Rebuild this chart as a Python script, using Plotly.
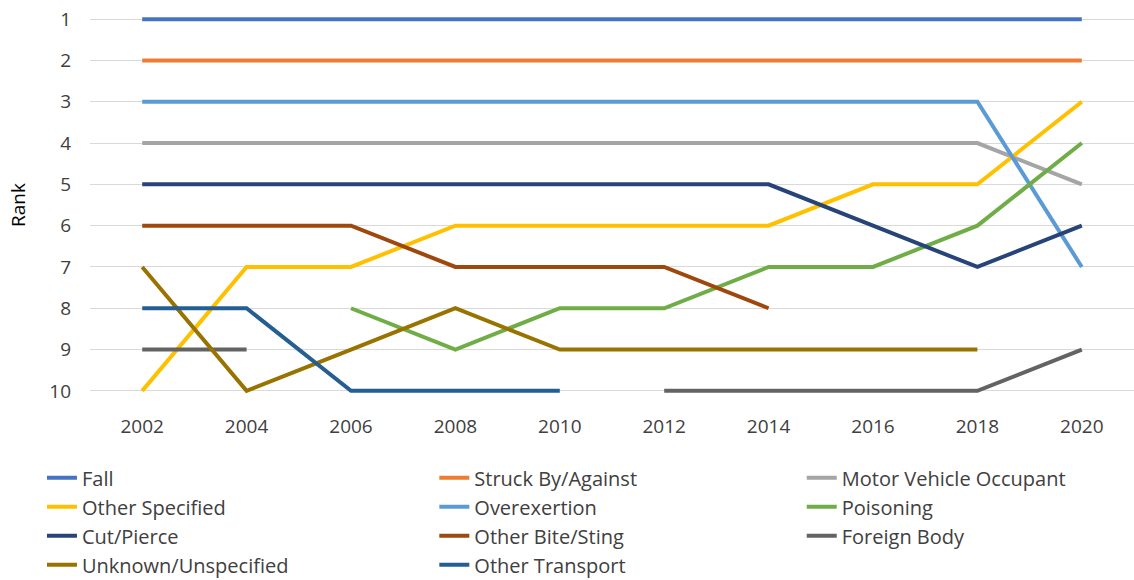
import plotly.graph_objects as go

years = ["2002", "2004", "2006", "2008", "2010", "2012", "2014", "2016", "2018", "2020"]

fall = [1, 1, 1, 1, 1, 1, 1, 1, 1, 1]
struck = [2, 2, 2, 2, 2, 2, 2, 2, 2, 2]
motor_vehicle = [4, 4, 4, 4, 4, 4, 4, 4, 4, 5]
other_specified = [10, 7, 7, 6, 6, 6, 6, 5, 5, 3]
overexertion = [3, 3, 3, 3, 3, 3, 3, 3, 3, 7]
poisoning = [None, None, 8, 9, 8, 8, 7, 7, 6, 4]
cut_pierce = [5, 5, 5, 5, 5, 5, 5, 6, 7, 6]
bite_sting = [6, 6, 6, 7, 7, 7, 8, None, None, None]
foreign_body = [9, 9, None, None, None, 10, 10, 10, 10, 9]
unknown = [7, 10, 9, 8, 9, 9, 9, 9, 9, None]
other_transport = [8, 8, 10, 10, 10, None, None, None, None, None]

# (name, values, colour, legend column)
series = [
    ("Fall", fall, "#4472C4", "legend"),
    ("Struck By/Against", struck, "#ED7D31", "legend2"),
    ("Motor Vehicle Occupant", motor_vehicle, "#A5A5A5", "legend3"),
    ("Other Specified", other_specified, "#FFC000", "legend"),
    ("Overexertion", overexertion, "#5B9BD5", "legend2"),
    ("Poisoning", poisoning, "#70AD47", "legend3"),
    ("Cut/Pierce", cut_pierce, "#264478", "legend"),
    ("Other Bite/Sting", bite_sting, "#9E480E", "legend2"),
    ("Foreign Body", foreign_body, "#636363", "legend3"),
    ("Unknown/Unspecified", unknown, "#997300", "legend"),
    ("Other Transport", other_transport, "#255E91", "legend2"),
]

fig = go.Figure()
for name, vals, color, leg in series:
    fig.add_trace(go.Scatter(
        x=years, y=vals, name=name, mode="lines",
        line=dict(color=color, width=4),
        connectgaps=False, legend=leg,
    ))

tick_font = dict(family="Open Sans, Noto Sans, sans-serif", size=19, color="#404040")
legend_font = dict(family="Open Sans, Noto Sans, sans-serif", size=20, color="#404040")


def legend_column(x):
    return dict(
        orientation="v", xref="container", yref="container",
        x=x, y=0.21, xanchor="left", yanchor="top",
        font=legend_font, tracegroupgap=0, itemwidth=30,
        bgcolor="rgba(0,0,0,0)",
    )


fig.update_layout(
    width=1134, height=580,
    margin=dict(l=90, r=0, t=15, b=185, autoexpand=False),
    plot_bgcolor="white", paper_bgcolor="white",
    showlegend=True,
    legend=legend_column(0.037),
    legend2=legend_column(0.383),
    legend3=legend_column(0.707),
    xaxis=dict(
        type="category", range=[-0.5, 9.5],
        showgrid=False, zeroline=False, showline=False, ticks="",
        tickfont=tick_font, ticklabelstandoff=18,
    ),
    yaxis=dict(
        range=[10.1, 0.9], tickmode="array",
        tickvals=list(range(1, 11)), ticktext=[str(i) for i in range(1, 11)],
        showgrid=True, gridcolor="#D9D9D9", gridwidth=1,
        zeroline=False, showline=False, ticks="",
        tickfont=tick_font, ticklabelstandoff=18,
    ),
    annotations=[dict(
        text="Rank", textangle=-90, showarrow=False,
        xref="paper", yref="paper", x=-0.069, y=0.5,
        xanchor="center", yanchor="middle",
        font=dict(family="Open Sans, Noto Sans, sans-serif", size=19, color="#000000"),
    )],
)

fig.write_html("out.html")
